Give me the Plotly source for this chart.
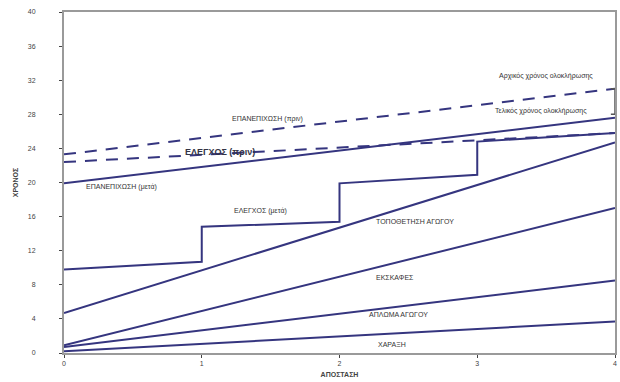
import plotly.graph_objects as go

# ---- data ----
x_pts = [0, 1, 2, 3, 4]
x_ends = [0, 4]
xaraxi = [0.2, 3.7]                 # ΧΑΡΑΞΗ
aploma = [0.7, 8.5]                 # ΑΠΛΩΜΑ ΑΓΩΓΟΥ
ekskafes = [0.9, 17.0]              # ΕΚΣΚΑΦΕΣ
topothetisi = [4.7, 24.7]           # ΤΟΠΟΘΕΤΗΣΗ ΑΓΩΓΟΥ
epan_meta = [19.9, 27.6]            # ΕΠΑΝΕΠΙΧΩΣΗ (μετά)
elegxos_prin = [22.4, 25.8]         # ΕΛΕΓΧΟΣ (πριν)
epan_prin = [23.3, 31.0]            # ΕΠΑΝΕΠΙΧΩΣΗ (πριν)
# ΕΛΕΓΧΟΣ (μετά) step: value at start / end of each unit segment
step_start = [9.8, 14.8, 19.9, 24.8]
step_end = [10.7, 15.4, 20.9, 25.8]
bracket = [28.0, 31.0]

y_ticks = [0, 4, 8, 12, 16, 20, 24, 28, 32, 36, 40]

labels = [
    ("Αρχικός χρόνος ολοκλήρωσης", 3.50, 32.5),
    ("Τελικός χρόνος ολοκλήρωσης", 3.46, 28.35),
    ("ΕΠΑΝΕΠΙΧΩΣΗ (πριν)", 1.48, 27.5),
    ("ΕΠΑΝΕΠΙΧΩΣΗ (μετά)", 0.42, 19.5),
    ("ΕΛΕΓΧΟΣ (μετά)", 1.43, 16.6),
    ("ΤΟΠΟΘΕΤΗΣΗ ΑΓΩΓΟΥ", 2.55, 15.4),
    ("ΕΚΣΚΑΦΕΣ", 2.40, 8.8),
    ("ΑΠΛΩΜΑ ΑΓΩΓΟΥ", 2.43, 4.5),
    ("ΧΑΡΑΞΗ", 2.38, 1.05),
]
big_label = ("ΕΛΕΓΧΟΣ (πριν)", 1.13, 23.6)

LC = "#35357f"
fig = go.Figure()

def line(xs, ys, dash="solid"):
    fig.add_trace(go.Scatter(x=xs, y=ys, mode="lines",
                             line=dict(color=LC, width=2, dash=dash),
                             showlegend=False, hoverinfo="skip", cliponaxis=False))

for ys in (xaraxi, aploma, ekskafes, topothetisi, epan_meta):
    line(x_ends, ys)
line(x_ends, elegxos_prin, "12px,9px")
line(x_ends, epan_prin, "12px,9px")

# step line
sx, sy = [], []
for i in range(4):
    sx += [x_pts[i], x_pts[i + 1]]
    sy += [step_start[i], step_end[i]]
line(sx, sy)

# bracket
fig.add_trace(go.Scatter(x=[x_ends[1] - 0.03, x_ends[1], x_ends[1], x_ends[1] - 0.03],
                         y=[bracket[1], bracket[1], bracket[0], bracket[0]],
                         mode="lines", line=dict(color="#555555", width=1.5),
                         showlegend=False, hoverinfo="skip", cliponaxis=False))

for txt, lx, ly in labels:
    fig.add_annotation(x=lx, y=ly, text=txt, showarrow=False,
                       font=dict(size=7, color="#333333", family="Liberation Sans"))
fig.add_annotation(x=big_label[1], y=big_label[2], text="<b>" + big_label[0] + "</b>",
                   showarrow=False,
                   font=dict(size=9, color="#333344", family="Liberation Sans"))

fig.update_layout(
    width=620, height=382,
    margin=dict(l=64, r=3, t=12, b=29),
    paper_bgcolor="white", plot_bgcolor="white",
    font=dict(family="Liberation Sans", size=7, color="#444444"),
    xaxis=dict(range=[0, 4], tickvals=x_pts, ticks="outside", ticklen=3,
               showgrid=False, zeroline=False, showline=True, mirror=True,
               linecolor="#9a9a9a", linewidth=2,
               title=dict(text="<b>ΑΠΟΣΤΑΣΗ</b>", font=dict(size=7), standoff=6)),
    yaxis=dict(range=[0, 40], tickvals=y_ticks, ticks="outside", ticklen=3,
               showgrid=False, zeroline=False, showline=True, mirror=True,
               linecolor="#9a9a9a", linewidth=2,
               ticklabelstandoff=22,
               title=dict(text="<b>ΧΡΟΝΟΣ</b>", font=dict(size=7), standoff=8)),
)

# remove the page's default body margin so the 620x382 figure fills the window
fig.write_html("out.html",
               config={"displayModeBar": False},
               post_script="document.body.style.margin='0';document.body.style.overflow='hidden';")
